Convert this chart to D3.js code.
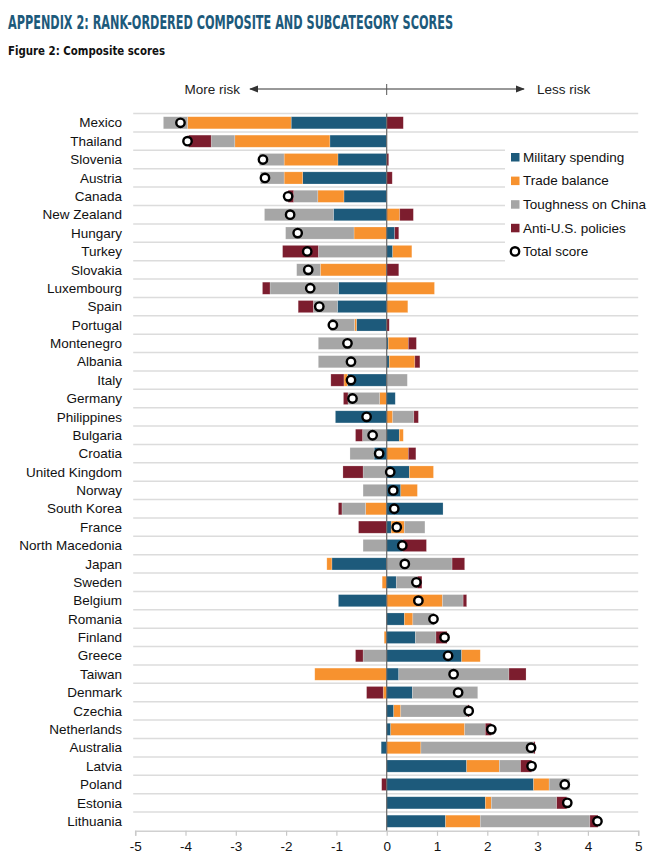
<!DOCTYPE html>
<html>
<head>
<meta charset="utf-8">
<script src="https://cdn.jsdelivr.net/npm/d3@7"></script>
<style>
  html, body { margin: 0; padding: 0; background: #fff; }
  svg { display: block; }
  text { font-family: "Liberation Sans", Arial, sans-serif; }
</style>
</head>
<body>
<svg id="chart" width="658" height="860"></svg>
<script>
// ---- Data ----
const countries = ["Mexico","Thailand","Slovenia","Austria","Canada","New Zealand","Hungary","Turkey","Slovakia","Luxembourg","Spain","Portugal","Montenegro","Albania","Italy","Germany","Philippines","Bulgaria","Croatia","United Kingdom","Norway","South Korea","France","North Macedonia","Japan","Sweden","Belgium","Romania","Finland","Greece","Taiwan","Denmark","Czechia","Netherlands","Australia","Latvia","Poland","Estonia","Lithuania"];
const military   = [-1.90,-1.13,-0.97,-1.67,-0.85,-1.06, 0.16, 0.12, 0.00,-0.96,-0.98,-0.60, 0.03, 0.05,-0.78, 0.17,-1.02, 0.25,-0.25, 0.45, 0.28, 1.12, 0.09, 0.32,-1.09, 0.19,-0.96, 0.35, 0.57, 1.49, 0.24, 0.51, 0.14, 0.08,-0.11, 1.59, 2.92, 1.96, 1.17];
const trade      = [-2.06,-1.89,-1.07,-0.37,-0.52, 0.26,-0.65, 0.38,-1.32, 0.95, 0.42,-0.04, 0.40, 0.51,-0.07,-0.14, 0.12, 0.08, 0.43, 0.48, 0.33,-0.42, 0.26, 0.00,-0.10,-0.09, 1.11, 0.17,-0.05, 0.37,-1.43,-0.07, 0.14, 1.47, 0.68, 0.65, 0.31, 0.12, 0.69];
const toughness  = [-0.48,-0.47,-0.49,-0.47,-0.48,-1.37,-1.36,-1.36,-0.47,-1.36,-0.48,-0.48,-1.36,-1.36, 0.41,-0.63, 0.42,-0.48,-0.48,-0.47,-0.47,-0.47, 0.41,-0.47, 1.30, 0.42, 0.41, 0.43, 0.41,-0.47, 2.19, 1.30, 1.33, 0.41, 2.24, 0.42, 0.41, 1.30, 2.18];
const antiUS     = [ 0.33,-0.45, 0.04, 0.11,-0.11, 0.27, 0.08,-0.71, 0.24,-0.15,-0.30, 0.05, 0.16, 0.10,-0.26,-0.09, 0.09,-0.14, 0.15,-0.40, 0.00,-0.07,-0.56, 0.47, 0.25, 0.09, 0.07, 0.00, 0.22,-0.15, 0.34,-0.33, 0.03, 0.12, 0.03, 0.22,-0.10, 0.20, 0.16];
const total      = [-4.10,-3.96,-2.46,-2.42,-1.96,-1.92,-1.77,-1.58,-1.56,-1.52,-1.34,-1.07,-0.78,-0.71,-0.71,-0.68,-0.40,-0.28,-0.15, 0.07, 0.13, 0.15, 0.20, 0.31, 0.36, 0.59, 0.63, 0.93, 1.15, 1.22, 1.33, 1.42, 1.63, 2.08, 2.87, 2.88, 3.54, 3.59, 4.19];
const seriesKeys   = ["military","trade","toughness","antiUS"];
const seriesLabels = ["Military spending","Trade balance","Toughness on China","Anti-U.S. policies"];
const seriesColors = ["#1d5a7b","#f7922f","#a6a6a6","#7c1d2e"];
const xTicks = [-5,-4,-3,-2,-1,0,1,2,3,4,5];

const rows = countries.map((c, i) => ({
  country: c, military: military[i], trade: trade[i], toughness: toughness[i], antiUS: antiUS[i], total: total[i]
}));

const svg = d3.select("#chart");
const x = d3.scaleLinear().domain([-5, 5]).range([135.2, 638.2]);
const y = d3.scaleBand().domain(countries).range([113.6, 830.4]).paddingInner(0.34).paddingOuter(0.17);
const step = y.step();
const bandStart = 113.6;

// Title
svg.append("text").attr("x", 8).attr("y", 29)
  .style("font-family", "'DejaVu Sans Condensed','Liberation Sans Narrow',sans-serif")
  .style("font-weight", "bold").style("font-size", "20px").attr("fill", "#1d5a7b")
  .attr("textLength", 445).attr("lengthAdjust", "spacingAndGlyphs")
  .text("APPENDIX 2: RANK-ORDERED COMPOSITE AND SUBCATEGORY SCORES");
svg.append("text").attr("x", 8).attr("y", 55)
  .style("font-family", "'DejaVu Sans Condensed','Liberation Sans Narrow',sans-serif")
  .style("font-weight", "bold").style("font-size", "13px").attr("fill", "#111")
  .attr("textLength", 157).attr("lengthAdjust", "spacingAndGlyphs")
  .text("Figure 2: Composite scores");

// Risk arrow
const defs = svg.append("defs");
defs.append("marker").attr("id", "ah").attr("viewBox", "0 0 10 10").attr("refX", 9).attr("refY", 5)
  .attr("markerWidth", 9).attr("markerHeight", 9).attr("markerUnits", "userSpaceOnUse").attr("orient", "auto-start-reverse")
  .append("path").attr("d", "M0,1 L10,5 L0,9 Z").attr("fill", "#333");
svg.append("line").attr("x1", 250).attr("x2", 524).attr("y1", 89).attr("y2", 89)
  .attr("stroke", "#333").attr("stroke-width", 1)
  .attr("marker-start", "url(#ah)").attr("marker-end", "url(#ah)");
svg.append("line").attr("x1", x(0)).attr("x2", x(0)).attr("y1", 84).attr("y2", 95)
  .attr("stroke", "#555").attr("stroke-width", 1);
svg.append("text").attr("x", 240).attr("y", 94).attr("text-anchor", "end")
  .style("font-size", "13.5px").attr("fill", "#222").text("More risk");
svg.append("text").attr("x", 537).attr("y", 94).attr("text-anchor", "start")
  .style("font-size", "13.5px").attr("fill", "#222").text("Less risk");

// Gridlines between rows
const gridYs = d3.range(countries.length).map(i => bandStart + step * i);
svg.append("g").selectAll("line").data(gridYs).join("line")
  .attr("x1", x(-5) - 2).attr("x2", x(5)).attr("y1", d => d).attr("y2", d => d)
  .attr("stroke", "#dcdcdc").attr("stroke-width", 1.5);

// Stacked diverging bars
const stack = d3.stack().keys(seriesKeys).offset(d3.stackOffsetDiverging).order(d3.stackOrderNone);
const stacked = stack(rows);
const barsG = svg.append("g");
stacked.forEach((layer, k) => {
  barsG.append("g").attr("fill", seriesColors[k]).selectAll("rect").data(layer).join("rect")
    .attr("x", d => x(Math.min(d[0], d[1])))
    .attr("width", d => Math.abs(x(d[1]) - x(d[0])))
    .attr("y", d => y(d.data.country))
    .attr("height", y.bandwidth())
    .attr("stroke", "#fff").attr("stroke-opacity", 0.35).attr("stroke-width", 0.6);
});

// Zero line
svg.append("line").attr("x1", x(0)).attr("x2", x(0)).attr("y1", bandStart).attr("y2", 831)
  .attr("stroke", "#666").attr("stroke-width", 1.2);

// Total score circles
svg.append("g").selectAll("circle").data(rows).join("circle")
  .attr("cx", d => x(d.total)).attr("cy", d => y(d.country) + y.bandwidth() / 2)
  .attr("r", 4.2).attr("fill", "#fff").attr("stroke", "#000").attr("stroke-width", 2.4);

// Country labels
svg.append("g").selectAll("text").data(countries).join("text")
  .attr("x", 122).attr("y", d => y(d) + y.bandwidth() / 2 + 4.7)
  .attr("text-anchor", "end").style("font-size", "13.5px").attr("fill", "#111")
  .text(d => d);

// X axis
const axisG = svg.append("g").attr("transform", `translate(0,${830.8})`)
  .call(d3.axisBottom(x).tickValues(xTicks).tickFormat(d => String(d)).tickSize(5).tickPadding(6));
axisG.select(".domain").attr("stroke", "#d0d0d0").attr("stroke-width", 1.5);
axisG.selectAll(".tick line").attr("stroke", "#c8c8c8").attr("stroke-width", 1.2);
axisG.selectAll(".tick text").style("font-family", "'Liberation Sans',Arial,sans-serif")
  .style("font-size", "13.5px").attr("fill", "#111");

// Legend (white box hides gridlines)
const lg = svg.append("g");
lg.append("rect").attr("x", 505).attr("y", 143).attr("width", 153).attr("height", 120).attr("fill", "#fff");
const lgY0 = 157, lgStep = 23.6;
seriesLabels.forEach((lab, i) => {
  lg.append("rect").attr("x", 511).attr("y", lgY0 + i * lgStep - 4).attr("width", 8.5).attr("height", 8.5)
    .attr("fill", seriesColors[i]);
  lg.append("text").attr("x", 523).attr("y", lgY0 + i * lgStep + 4.7)
    .style("font-size", "13.5px").attr("fill", "#111").text(lab);
});
lg.append("circle").attr("cx", 515).attr("cy", lgY0 + 4 * lgStep).attr("r", 4.2)
  .attr("fill", "#fff").attr("stroke", "#000").attr("stroke-width", 2.4);
lg.append("text").attr("x", 523).attr("y", lgY0 + 4 * lgStep + 4.7)
  .style("font-size", "13.5px").attr("fill", "#111").text("Total score");
</script>
</body>
</html>
